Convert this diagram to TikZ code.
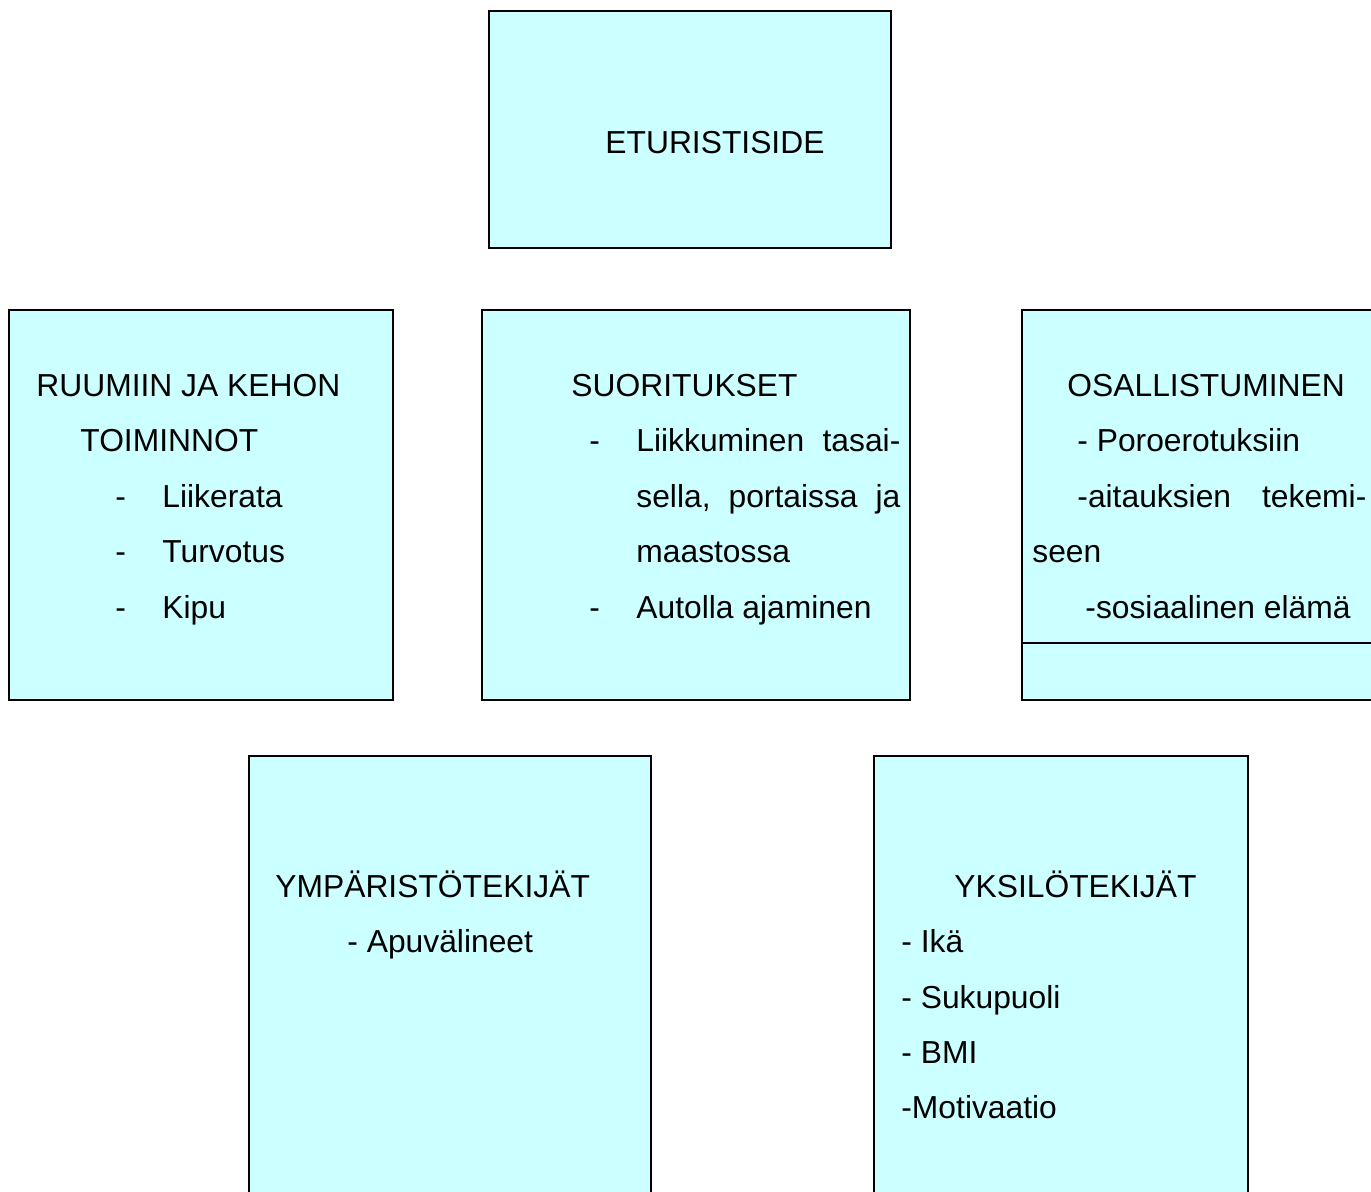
\documentclass[tikz,border=0pt]{standalone}
\usepackage{fontspec}
\setmainfont{Liberation Sans}
\definecolor{boxfill}{RGB}{204,255,255}
\begin{document}
\begin{tikzpicture}[x=0.5pt,y=-0.5pt,
  boxline/.style={draw=black, line width=1pt, fill=boxfill},
  txt/.style={anchor=base west, inner sep=0pt, font=\fontsize{15.9}{18}\selectfont}]
\useasboundingbox (0,0) rectangle (1371,1191);
\fill[white] (0,0) rectangle (1371,1191);
\clip (0,0) rectangle (1371,1191);
% boxes
\draw[boxline] (489,11) rectangle (891,248);
\draw[boxline] (9,310) rectangle (393,700);
\draw[boxline] (482,310) rectangle (910,700);
\draw[boxline] (1022,310) rectangle (1390,700);
\draw[line width=1pt] (1022,643) -- (1390,643);
\draw[boxline] (249,756) rectangle (651,1210);
\draw[boxline] (874,756) rectangle (1248,1210);
% top
\node[txt] (etu) at (605,153) {ETURISTISIDE};
% left
\node[txt] (r1) at (36,396) {RUUMIIN JA KEHON};
\node[txt] (r2) at (80,451) {TOIMINNOT};
\node[txt] (rd1) at (115,507) {-};
\node[txt] (rd2) at (115,562) {-};
\node[txt] (rd3) at (115,618) {-};
\node[txt] (r3) at (162,507) {Liikerata};
\node[txt] (r4) at (162,562) {Turvotus};
\node[txt] (r5) at (162,618) {Kipu};
% middle
\node[txt] (s1) at (571,396) {SUORITUKSET};
\node[txt] (sd1) at (589,451) {-};
\node[txt] (s2) at (636,451) {\makebox[132pt][l]{Liikkuminen\hfill tasai-}};
\node[txt] (s3) at (636,507) {\makebox[132pt][l]{sella,\hfill portaissa\hfill ja}};
\node[txt] (s4) at (636,562) {maastossa};
\node[txt] (sd2) at (589,618) {-};
\node[txt] (s5) at (636,618) {Autolla ajaminen};
% right
\node[txt] (o1) at (1067,396) {OSALLISTUMINEN};
\node[txt] (o2) at (1077,451) {- Poroerotuksiin};
\node[txt] (o3) at (1077,507) {\makebox[144.5pt][l]{-aitauksien\hfill tekemi-}};
\node[txt] (o4) at (1032,562) {seen};
\node[txt] (o5) at (1085,618) {-sosiaalinen elämä};
% bottom left
\node[txt] (y1) at (275,897) {YMPÄRISTÖTEKIJÄT};
\node[txt] (y2) at (347,952) {- Apuvälineet};
% bottom right
\node[txt] (k1) at (954,897) {YKSILÖTEKIJÄT};
\node[txt] (k2) at (901,952) {- Ikä};
\node[txt] (k3) at (901,1008) {- Sukupuoli};
\node[txt] (k4) at (901,1063) {- BMI};
\node[txt] (k5) at (901,1118) {-Motivaatio};
\end{tikzpicture}
\end{document}
